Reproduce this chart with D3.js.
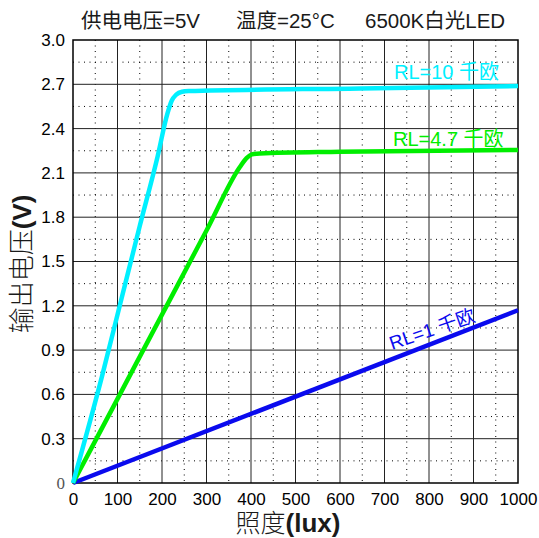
<!DOCTYPE html>
<html>
<head>
<meta charset="utf-8">
<script src="https://cdn.jsdelivr.net/npm/d3@7"></script>
<style>
  html, body { margin: 0; padding: 0; background: #fff; }
  svg { display: block; }
  .lat { font-family: "Liberation Sans", Arial, "Noto Sans CJK SC", sans-serif; }
  .cjk { font-family: "Noto Sans CJK SC", sans-serif; font-weight: 300; }
</style>
</head>
<body>
<svg id="chart" width="539" height="538"></svg>
<script>
// Tick values
const luxTicks = [0, 100, 200, 300, 400, 500, 600, 700, 800, 900, 1000];
const voltTicks = [0, 0.3, 0.6, 0.9, 1.2, 1.5, 1.8, 2.1, 2.4, 2.7, 3.0];

// Output voltage vs. illuminance for three load resistors
const seriesNames = ["RL=10 千欧", "RL=4.7 千欧", "RL=1 千欧"];
const rl10Lux  = [0, 65, 105, 150, 190, 212, 222, 232, 245, 260, 645, 1000];
const rl10Volt = [0, 0.72, 1.2, 1.74, 2.21, 2.5, 2.59, 2.63, 2.65, 2.655, 2.672, 2.688];
const rl47Lux  = [0, 100, 200, 300, 375, 390, 402, 420, 600, 1000];
const rl47Volt = [0, 0.57, 1.14, 1.71, 2.14, 2.2, 2.225, 2.232, 2.243, 2.255];
const rl1Lux   = [0, 1000];
const rl1Volt  = [0, 1.17];
const seriesColors = ["#00f0ff", "#00ee00", "#0a0aee"];

const titleParts = ["供电电压=5V", "温度=25°C", "6500K白光LED"];

const svg = d3.select("#chart");
const W = 539, H = 538;
const m = { left: 73, right: 21, top: 40, bottom: 55 };

const x = d3.scaleLinear().domain([0, 1000]).range([m.left, W - m.right]);
const y = d3.scaleLinear().domain([0, 3]).range([H - m.bottom, m.top]);

svg.append("rect").attr("width", W).attr("height", H).attr("fill", "#fff");

// Minor dotted grid at the half steps
const g = svg.append("g");
const halfLux = d3.range(50, 1000, 100);
const halfVolt = d3.range(0.15, 3, 0.3);
g.selectAll("line.vdot").data(halfLux).join("line")
  .attr("x1", d => x(d)).attr("x2", d => x(d))
  .attr("y1", y(3)).attr("y2", y(0))
  .attr("stroke", "#000").attr("stroke-width", 1)
  .attr("stroke-dasharray", "1,4.5");
g.selectAll("line.hdot").data(halfVolt).join("line")
  .attr("y1", d => y(d)).attr("y2", d => y(d))
  .attr("x1", x(0)).attr("x2", x(1000))
  .attr("stroke", "#000").attr("stroke-width", 1)
  .attr("stroke-dasharray", "1,4.5");

// Major solid grid
g.selectAll("line.vmaj").data(luxTicks.slice(1, -1)).join("line")
  .attr("x1", d => x(d)).attr("x2", d => x(d))
  .attr("y1", y(3)).attr("y2", y(0))
  .attr("stroke", "#222").attr("stroke-width", 1);
g.selectAll("line.hmaj").data(voltTicks.slice(1, -1)).join("line")
  .attr("y1", d => y(d)).attr("y2", d => y(d))
  .attr("x1", x(0)).attr("x2", x(1000))
  .attr("stroke", "#222").attr("stroke-width", 1);

// Plot frame
svg.append("rect")
  .attr("x", x(0)).attr("y", y(3))
  .attr("width", x(1000) - x(0)).attr("height", y(0) - y(3))
  .attr("fill", "none").attr("stroke", "#000").attr("stroke-width", 1.5);

// Axes
const xAxis = svg.append("g")
  .attr("transform", `translate(0,${y(0)})`)
  .call(d3.axisBottom(x).tickValues(luxTicks).tickSize(0).tickPadding(9.5)
    .tickFormat(d3.format("d")));
xAxis.select(".domain").remove();
xAxis.selectAll("text").attr("class", "lat").style("font-size", "17px").attr("fill", "#000");

const yAxis = svg.append("g")
  .attr("transform", `translate(${x(0)},0)`)
  .call(d3.axisLeft(y).tickValues(voltTicks).tickSize(0).tickPadding(8)
    .tickFormat(d => d === 0 ? "0" : d.toFixed(1)));
yAxis.select(".domain").remove();
yAxis.selectAll("text").attr("class", "lat").style("font-size", "17px").attr("fill", "#000");
yAxis.selectAll("text").filter(d => d === 0)
  .style("font-family", "'Liberation Serif', serif").attr("fill", "#555");

// Curves
const series = [
  { lux: rl1Lux, volt: rl1Volt, color: seriesColors[2] },
  { lux: rl47Lux, volt: rl47Volt, color: seriesColors[1] },
  { lux: rl10Lux, volt: rl10Volt, color: seriesColors[0] }
];
const line = d3.line()
  .x(d => x(d[0])).y(d => y(d[1]))
  .curve(d3.curveMonotoneX);
series.forEach(s => {
  svg.append("path")
    .datum(s.lux.map((v, i) => [v, s.volt[i]]))
    .attr("d", line)
    .attr("fill", "none")
    .attr("stroke", s.color)
    .attr("stroke-width", 4.5)
    .attr("stroke-linejoin", "round");
});

// Series labels
svg.append("text").attr("class", "lat")
  .attr("x", 394).attr("y", 79)
  .style("font-size", "20px").attr("fill", seriesColors[0])
  .text(seriesNames[0]);
svg.append("text").attr("class", "lat")
  .attr("x", 393).attr("y", 146)
  .style("font-size", "20px").attr("fill", seriesColors[1])
  .text(seriesNames[1]);
svg.append("text").attr("class", "lat")
  .attr("transform", "translate(392,350) rotate(-19)")
  .style("font-size", "19px").attr("fill", seriesColors[2])
  .text(seriesNames[2]);

// Header line
const titleX = [81, 236, 365];
titleParts.forEach((t, i) => {
  svg.append("text").attr("class", "lat")
    .attr("x", titleX[i]).attr("y", 28)
    .style("font-size", "20.5px").attr("fill", "#1a1a1a")
    .text(t);
});

// Axis titles
const xt = svg.append("text")
  .attr("x", 288).attr("y", 532)
  .attr("text-anchor", "middle").attr("fill", "#1a1a1a");
xt.append("tspan").attr("class", "cjk").style("font-size", "25px").text("照度");
xt.append("tspan").attr("class", "lat").style("font-size", "26px")
  .style("font-weight", "bold").text("(lux)");

const yt = svg.append("text")
  .attr("transform", "translate(31,264) rotate(-90)")
  .attr("text-anchor", "middle").attr("fill", "#1a1a1a");
yt.append("tspan").attr("class", "cjk").style("font-size", "26px").text("输出电压");
yt.append("tspan").attr("class", "lat").style("font-size", "26px")
  .style("font-weight", "bold").text("(V)");
</script>
</body>
</html>
